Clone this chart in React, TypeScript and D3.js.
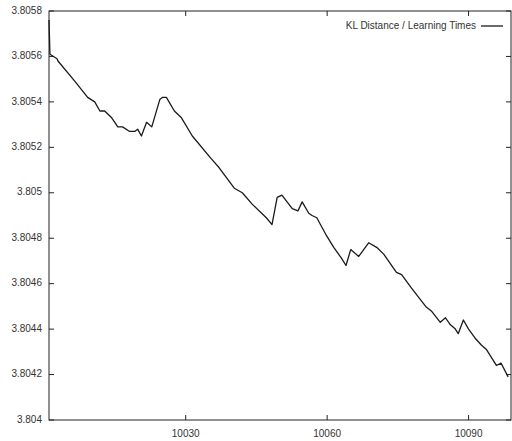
import React, { useEffect, useRef } from 'react';
import * as d3 from 'd3';

// learning times (x) and KL distance (y)
const learnTimes = [
  10001, 10001.2, 10002.7, 10002.9, 10006.5, 10009.2, 10010.7, 10011.8, 10012.8, 10014.3,
  10015.6, 10016.6, 10018.1, 10019.2, 10019.8, 10020.6, 10021.7, 10022.8, 10024.5, 10025.1,
  10025.9, 10027.6, 10029.1, 10031.4, 10035.4, 10037.1, 10040.3, 10042.0, 10044.1, 10047.1,
  10048.3, 10049.4, 10050.4, 10052.6, 10053.8, 10054.7, 10056.1, 10056.8, 10057.8, 10059.9,
  10061.4, 10063.1, 10064.0, 10065.0, 10066.7, 10068.8, 10070.5, 10072.0, 10074.7, 10075.8,
  10077.9, 10080.9, 10082.1, 10084.0, 10085.1, 10086.1, 10087.2, 10087.8, 10088.9, 10090.0,
  10091.4, 10092.7, 10093.8, 10095.9, 10096.9, 10098.4,
];
const klDistance = [
  3.80576, 3.80561, 3.80559, 3.80558, 3.80549, 3.80542, 3.8054, 3.80536, 3.80536, 3.80533,
  3.80529, 3.80529, 3.80527, 3.80527, 3.80528, 3.80525, 3.80531, 3.80529, 3.80541, 3.80542,
  3.80542, 3.80536, 3.80533, 3.80525, 3.80515, 3.80511, 3.80502, 3.805, 3.80495, 3.80489,
  3.80486, 3.80498, 3.80499, 3.80493, 3.80492, 3.80496, 3.80491, 3.8049, 3.80489, 3.80481,
  3.80476, 3.80471, 3.80468, 3.80475, 3.80472, 3.80478, 3.80476, 3.80473, 3.80465, 3.80464,
  3.80458, 3.8045, 3.80448, 3.80443, 3.80445, 3.80442, 3.8044, 3.80438, 3.80444, 3.8044,
  3.80436, 3.80433, 3.80431, 3.80424, 3.80425, 3.80419,
];

const xTicks = [10030, 10060, 10090];
const yTicks = [3.804, 3.8042, 3.8044, 3.8046, 3.8048, 3.805, 3.8052, 3.8054, 3.8056, 3.8058];
const seriesName = 'KL Distance / Learning Times';

const W = 512;
const H = 441;

export default function App() {
  const svgRef = useRef<SVGSVGElement>(null);

  useEffect(() => {
    if (!svgRef.current) return;
    const svg = d3.select(svgRef.current);
    svg.selectAll('*').remove();

    const left = 49, right = 511, top = 11, bottom = 420;
    const x = d3.scaleLinear().domain([10001, 10099]).range([left, right]);
    const y = d3.scaleLinear().domain([3.804, 3.8058]).range([bottom, top]);
    const ink = '#222';
    const font = '"Liberation Sans", Arial, sans-serif';

    svg.append('rect')
      .attr('width', W).attr('height', H).attr('fill', '#fff');

    // frame
    svg.append('rect')
      .attr('x', left).attr('y', top)
      .attr('width', right - left).attr('height', bottom - top)
      .attr('fill', 'none').attr('stroke', ink).attr('stroke-width', 1);

    const tl = 5;
    // y ticks, mirrored on the right
    yTicks.forEach(t => {
      const yy = y(t);
      svg.append('line').attr('x1', left).attr('x2', left + tl).attr('y1', yy).attr('y2', yy)
        .attr('stroke', ink);
      svg.append('line').attr('x1', right - tl).attr('x2', right).attr('y1', yy).attr('y2', yy)
        .attr('stroke', ink);
      svg.append('text')
        .attr('x', left - 7).attr('y', yy)
        .attr('text-anchor', 'end').attr('dominant-baseline', 'middle')
        .style('font-family', font).style('font-size', '10px').attr('fill', '#333')
        .text(Number(t.toFixed(4)).toString());
    });

    // x ticks, mirrored on top
    xTicks.forEach(t => {
      const xx = x(t);
      svg.append('line').attr('x1', xx).attr('x2', xx).attr('y1', bottom).attr('y2', bottom - tl)
        .attr('stroke', ink);
      svg.append('line').attr('x1', xx).attr('x2', xx).attr('y1', top).attr('y2', top + tl)
        .attr('stroke', ink);
      svg.append('text')
        .attr('x', xx).attr('y', bottom + 14)
        .attr('text-anchor', 'middle').attr('dominant-baseline', 'middle')
        .style('font-family', font).style('font-size', '10px').attr('fill', '#333')
        .text(String(t));
    });

    const pts = learnTimes.map((t, i) => [t, klDistance[i]] as [number, number]);
    const line = d3.line<[number, number]>()
      .x(d => x(d[0]))
      .y(d => y(d[1]));

    svg.append('path')
      .datum(pts)
      .attr('d', line)
      .attr('fill', 'none')
      .attr('stroke', '#1a1a1a')
      .attr('stroke-width', 1.3)
      .attr('stroke-linejoin', 'round');

    // legend
    svg.append('text')
      .attr('x', 476).attr('y', 26)
      .attr('text-anchor', 'end').attr('dominant-baseline', 'middle')
      .style('font-family', font).style('font-size', '10px').attr('fill', '#333')
      .text(seriesName);
    svg.append('line')
      .attr('x1', 481).attr('x2', 503).attr('y1', 26).attr('y2', 26)
      .attr('stroke', '#1a1a1a').attr('stroke-width', 1.3);
  }, []);

  return (
    <svg
      ref={svgRef}
      width={W}
      height={H}
      style={{ position: 'absolute', left: 0, top: 0 }}
    />
  );
}
